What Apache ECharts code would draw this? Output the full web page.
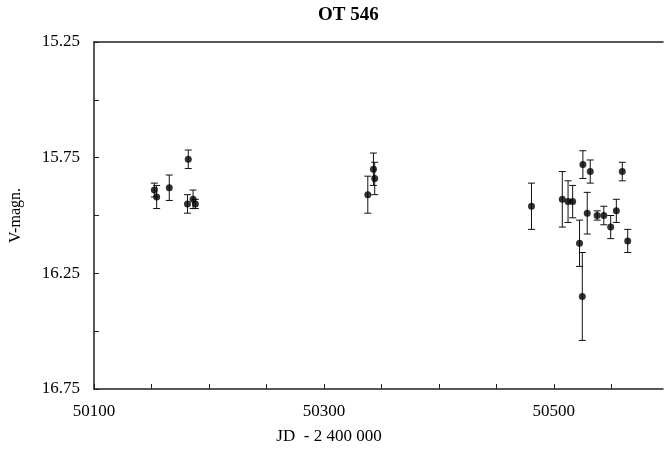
<!DOCTYPE html>
<html>
<head>
<meta charset="utf-8">
<script src="https://cdn.jsdelivr.net/npm/echarts@6/dist/echarts.min.js"></script>
<style>html,body{margin:0;padding:0;background:#fff}#c{width:665px;height:451px}</style>
</head>
<body>
<div id="c"></div>
<script>
const chartTitle = "OT 546";
const xName = "JD  - 2 400 000";
const yName = "V-magn.";
const jd  = [50152.5, 50154.5, 50165.5, 50182.0, 50181.3, 50186.2, 50188.2,
             50338.2, 50343.1, 50344.2,
             50480.6, 50507.4, 50512.4, 50516.4, 50525.3, 50531.7, 50529.1, 50522.4, 50524.8,
             50537.7, 50543.5, 50549.5, 50554.4, 50559.6, 50564.3];
const mag = [15.89, 15.92, 15.88, 15.757, 15.95, 15.93, 15.95,
             15.91, 15.80, 15.84,
             15.96, 15.93, 15.94, 15.94, 15.78, 15.81, 15.99, 16.12, 16.35,
             16.00, 16.00, 16.05, 15.98, 15.81, 16.11];
const err = [0.03, 0.05, 0.055, 0.04, 0.04, 0.04, 0.02,
             0.08, 0.07, 0.07,
             0.10, 0.12, 0.09, 0.07, 0.06, 0.05, 0.09, 0.10, 0.19,
             0.02, 0.04, 0.05, 0.05, 0.04, 0.05];
const xTickLabels = [50100, 50300, 50500];
const yTickLabels = [15.25, 15.75, 16.25, 16.75];

const pts = jd.map((x, i) => [x, mag[i]]);
const bars = jd.map((x, i) => [x, mag[i], err[i]]);
const font = "'Liberation Serif', 'DejaVu Serif', serif";

const chart = echarts.init(document.getElementById('c'), null, {renderer: 'canvas'});
chart.setOption({
  animation: false,
  backgroundColor: '#fff',
  grid: {left: 91, right: 2, top: 42, bottom: 62},
  graphic: [
    {type: 'text', left: 318, top: 6, style: {text: chartTitle, font: "bold 19px " + font, fill: '#000'}},
    {type: 'text', x: 329, y: 437, style: {text: xName, font: "17px " + font, fill: '#000', align: 'center', verticalAlign: 'middle'}}
  ],
  xAxis: [{
    type: 'value', min: 50100, max: 50595, interval: 50,
    axisLine: {show: true, lineStyle: {color: '#222', width: 1.5}},
    axisTick: {show: true, inside: true, length: 5, lineStyle: {color: '#222'}},
    splitLine: {show: false},
    axisLabel: {
      margin: 14, color: '#000', fontFamily: font, fontSize: 17,
      showMaxLabel: false,
      formatter: v => xTickLabels.includes(Math.round(v)) ? String(Math.round(v)) : ''
    }
  }, {
    type: 'value', position: 'top', min: 50100, max: 50595,
    axisLine: {show: true, lineStyle: {color: '#222', width: 1.5}},
    axisTick: {show: false}, axisLabel: {show: false}, splitLine: {show: false}
  }],
  yAxis: {
    type: 'value', inverse: true, min: 15.25, max: 16.75, interval: 0.25,
    name: yName, nameLocation: 'middle', nameGap: 70, nameRotate: 90,
    nameTextStyle: {fontFamily: font, fontSize: 16, color: '#000'},
    axisLine: {show: true, lineStyle: {color: '#222', width: 1.5}},
    axisTick: {show: true, inside: true, length: 5, lineStyle: {color: '#222'}},
    splitLine: {show: false},
    axisLabel: {
      margin: 14, color: '#000', fontFamily: font, fontSize: 17,
      formatter: v => yTickLabels.some(t => Math.abs(t - v) < 1e-6) ? v.toFixed(2) : ''
    }
  },
  series: [{
    type: 'custom',
    data: bars,
    renderItem: function (params, api) {
      const x = api.value(0), y = api.value(1), e = api.value(2);
      const top = api.coord([x, y - e]);
      const bot = api.coord([x, y + e]);
      const w = 3.5;
      const st = {stroke: '#111', lineWidth: 1};
      return {type: 'group', children: [
        {type: 'line', shape: {x1: top[0], y1: top[1], x2: bot[0], y2: bot[1]}, style: st},
        {type: 'line', shape: {x1: top[0] - w, y1: top[1], x2: top[0] + w, y2: top[1]}, style: st},
        {type: 'line', shape: {x1: bot[0] - w, y1: bot[1], x2: bot[0] + w, y2: bot[1]}, style: st}
      ]};
    },
    z: 2
  }, {
    type: 'scatter', data: pts, symbol: 'circle', symbolSize: 7,
    itemStyle: {color: '#000'}, z: 3
  }]
});
</script>
</body>
</html>
